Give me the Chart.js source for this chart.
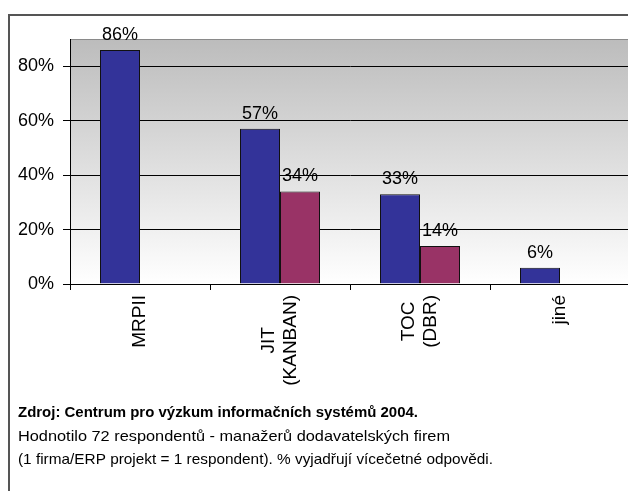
<!DOCTYPE html>
<html><head><meta charset="utf-8">
<script src="https://cdn.jsdelivr.net/npm/chart.js@4/dist/chart.umd.min.js"></script>
<style>html,body{margin:0;padding:0;overflow:hidden;background:#fff;width:628px;height:491px}canvas{display:block}</style>
</head><body>
<canvas id="c" width="640" height="491" style="width:640px;height:491px"></canvas>
<script>
const categories = [["MRPII"], ["JIT", "(KANBAN)"], ["TOC", "(DBR)"], ["jiné"]];
const seriesA = [86, 57, 33, 6];
const seriesB = [null, 34, 14, null];
const yTicks = [0, 20, 40, 60, 80];
const yMax = 90;
const footerTitle = "Zdroj: Centrum pro výzkum informačních systémů 2004.";
const footerLines = [
  "Hodnotilo 72 respondentů - manažerů dodavatelských firem",
  "(1 firma/ERP projekt = 1 respondent). % vyjadřují vícečetné odpovědi."
];

const FONT = '"Liberation Sans", Arial, sans-serif';

const bgPlugin = {
  id: 'bg',
  beforeDraw(chart) {
    const { ctx, chartArea: a } = chart;
    ctx.save();
    ctx.fillStyle = '#fff';
    ctx.fillRect(0, 0, chart.width, chart.height);
    const g = ctx.createLinearGradient(0, a.top, 0, a.bottom);
    g.addColorStop(0, '#bcbcbc');
    g.addColorStop(1, '#ffffff');
    ctx.fillStyle = g;
    ctx.fillRect(a.left, a.top, a.right - a.left, a.bottom - a.top);
    ctx.strokeStyle = '#8a8a8a';
    ctx.lineWidth = 1;
    ctx.beginPath();
    ctx.moveTo(a.left, a.top + 0.5);
    ctx.lineTo(a.right, a.top + 0.5);
    ctx.stroke();
    ctx.strokeStyle = '#555';
    ctx.lineWidth = 2;
    ctx.beginPath();
    ctx.moveTo(9, chart.height + 5);
    ctx.lineTo(9, 15);
    ctx.lineTo(chart.width + 5, 15);
    ctx.stroke();
    ctx.restore();
  }
};

const labelPlugin = {
  id: 'labels',
  afterDatasetsDraw(chart) {
    const ctx = chart.ctx;
    ctx.save();
    ctx.font = '18px ' + FONT;
    ctx.fillStyle = '#000';
    ctx.textAlign = 'center';
    ctx.textBaseline = 'alphabetic';
    chart.data.datasets.forEach((ds, i) => {
      chart.getDatasetMeta(i).data.forEach((bar, j) => {
        const v = ds.data[j];
        if (v == null) return;
        ctx.fillText(v + '%', bar.x, bar.y - 10);
      });
    });
    ctx.restore();
  },
  afterDraw(chart) {
    const ctx = chart.ctx;
    const xs = chart.scales.x;
    const a = chart.chartArea;
    ctx.save();
    ctx.font = '19px ' + FONT;
    ctx.fillStyle = '#000';
    ctx.textAlign = 'center';
    ctx.textBaseline = 'middle';
    chart.data.labels.forEach((lines, i) => {
      const x = xs.getPixelForValue(i);
      const maxW = Math.max(...lines.map(l => ctx.measureText(l).width));
      const cy = a.bottom + 11 + maxW / 2;
      ctx.save();
      ctx.translate(x, cy);
      ctx.rotate(-Math.PI / 2);
      lines.forEach((l, j) => {
        ctx.fillText(l, 0, (j - (lines.length - 1) / 2) * 22);
      });
      ctx.restore();
    });
    // footer
    ctx.textAlign = 'left';
    ctx.textBaseline = 'alphabetic';
    const drawFit = (text, font, x, y, w) => {
      ctx.font = font;
      const m = ctx.measureText(text).width;
      ctx.save();
      ctx.translate(x, y);
      ctx.scale(w / m, 1);
      ctx.fillText(text, 0, 0);
      ctx.restore();
    };
    drawFit(footerTitle, 'bold 15px ' + FONT, 18, 417, 400);
    drawFit(footerLines[0], '15px ' + FONT, 18, 441, 432);
    drawFit(footerLines[1], '15px ' + FONT, 18, 464, 475);
    ctx.restore();
  }
};

new Chart(document.getElementById('c'), {
  type: 'bar',
  data: {
    labels: categories,
    datasets: [
      { data: seriesA, backgroundColor: '#333399', borderColor: '#111', borderWidth: 1 },
      { data: seriesB, backgroundColor: '#993366', borderColor: '#111', borderWidth: 1 }
    ]
  },
  options: {
    responsive: false,
    animation: false,
    devicePixelRatio: 1,
    layout: { padding: { top: 39, right: 10, left: 0, bottom: 0 } },
    plugins: { legend: { display: false }, tooltip: { enabled: false } },
    datasets: { bar: { barPercentage: 1, categoryPercentage: 80 / 140 } },
    scales: {
      x: {
        grid: { display: true, drawOnChartArea: false, drawTicks: true, tickLength: 6, color: '#000', offset: true },
        border: { display: true, color: '#000', width: 1 },
        ticks: { display: false },
        afterFit(s) { s.height = 491 - 284; }
      },
      y: {
        min: 0, max: yMax,
        afterBuildTicks(s) { s.ticks = yTicks.map(v => ({ value: v })); },
        grid: { color: '#000', tickLength: 7, drawTicks: true },
        border: { color: '#000', width: 1 },
        ticks: { padding: 9, font: { family: FONT, size: 18 }, color: '#000', callback: v => v + '%' },
        afterFit(s) { s.width = 70; }
      }
    }
  },
  plugins: [bgPlugin, labelPlugin]
});
</script>
</body></html>
